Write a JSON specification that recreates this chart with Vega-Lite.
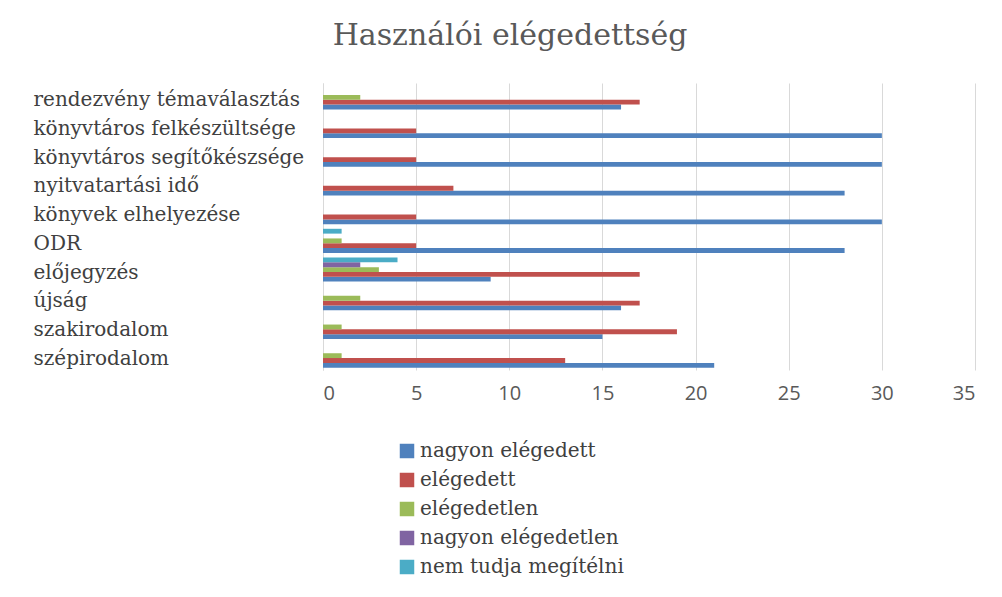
{
  "$schema": "https://vega.github.io/schema/vega-lite/v6.json",
  "autosize": {"type": "none"},
  "padding": {"left": 323, "top": 83, "right": 27, "bottom": 227},
  "width": 652,
  "height": 287,
  "background": "white",
  "title": {
    "text": "Használói elégedettség",
    "font": "DejaVu Serif",
    "fontSize": 30,
    "fontWeight": "normal",
    "color": "#595959",
    "anchor": "middle",
    "frame": "group",
    "dx": -139,
    "baseline": "alphabetic",
    "offset": 8
  },
  "data": {
    "values": [
      {"cat": "rendezvény témaválasztás", "series": "nagyon elégedett", "value": 16},
      {"cat": "rendezvény témaválasztás", "series": "elégedett", "value": 17},
      {"cat": "rendezvény témaválasztás", "series": "elégedetlen", "value": 2},
      {"cat": "könyvtáros felkészültsége", "series": "nagyon elégedett", "value": 30},
      {"cat": "könyvtáros felkészültsége", "series": "elégedett", "value": 5},
      {"cat": "könyvtáros segítőkészsége", "series": "nagyon elégedett", "value": 30},
      {"cat": "könyvtáros segítőkészsége", "series": "elégedett", "value": 5},
      {"cat": "nyitvatartási idő", "series": "nagyon elégedett", "value": 28},
      {"cat": "nyitvatartási idő", "series": "elégedett", "value": 7},
      {"cat": "könyvek elhelyezése", "series": "nagyon elégedett", "value": 30},
      {"cat": "könyvek elhelyezése", "series": "elégedett", "value": 5},
      {"cat": "ODR", "series": "nagyon elégedett", "value": 28},
      {"cat": "ODR", "series": "elégedett", "value": 5},
      {"cat": "ODR", "series": "elégedetlen", "value": 1},
      {"cat": "ODR", "series": "nem tudja megítélni", "value": 1},
      {"cat": "előjegyzés", "series": "nagyon elégedett", "value": 9},
      {"cat": "előjegyzés", "series": "elégedett", "value": 17},
      {"cat": "előjegyzés", "series": "elégedetlen", "value": 3},
      {"cat": "előjegyzés", "series": "nagyon elégedetlen", "value": 2},
      {"cat": "előjegyzés", "series": "nem tudja megítélni", "value": 4},
      {"cat": "újság", "series": "nagyon elégedett", "value": 16},
      {"cat": "újság", "series": "elégedett", "value": 17},
      {"cat": "újság", "series": "elégedetlen", "value": 2},
      {"cat": "szakirodalom", "series": "nagyon elégedett", "value": 15},
      {"cat": "szakirodalom", "series": "elégedett", "value": 19},
      {"cat": "szakirodalom", "series": "elégedetlen", "value": 1},
      {"cat": "szépirodalom", "series": "nagyon elégedett", "value": 21},
      {"cat": "szépirodalom", "series": "elégedett", "value": 13},
      {"cat": "szépirodalom", "series": "elégedetlen", "value": 1}
    ]
  },
  "mark": {"type": "bar"},
  "encoding": {
    "y": {
      "field": "cat",
      "type": "nominal",
      "sort": ["rendezvény témaválasztás", "könyvtáros felkészültsége", "könyvtáros segítőkészsége", "nyitvatartási idő", "könyvek elhelyezése", "ODR", "előjegyzés", "újság", "szakirodalom", "szépirodalom"],
      "scale": {"paddingInner": 0.16, "paddingOuter": 0.08},
      "axis": {
        "title": null,
        "ticks": false,
        "domain": true,
        "domainColor": "#d9d9d9",
        "domainWidth": 1,
        "labelAlign": "left",
        "labelPadding": 290,
        "labelOffset": 3,
        "labelLimit": 400,
        "labelFont": "DejaVu Serif",
        "labelFontSize": 20,
        "labelColor": "#404040"
      }
    },
    "yOffset": {
      "field": "series",
      "type": "nominal",
      "sort": ["nem tudja megítélni", "nagyon elégedetlen", "elégedetlen", "elégedett", "nagyon elégedett"],
      "scale": {"paddingInner": 0, "paddingOuter": 0}
    },
    "x": {
      "field": "value",
      "type": "quantitative",
      "scale": {"domain": [0, 35], "nice": false},
      "axis": {
        "title": null,
        "values": [0, 5, 10, 15, 20, 25, 30, 35],
        "domain": false,
        "ticks": false,
        "grid": true,
        "gridColor": "#d9d9d9",
        "gridWidth": 1,
        "labelFont": "Open Sans",
        "labelFontSize": 20,
        "labelColor": "#595959",
        "labelPadding": 13
      }
    },
    "color": {
      "field": "series",
      "type": "nominal",
      "scale": {
        "domain": ["nagyon elégedett", "elégedett", "elégedetlen", "nagyon elégedetlen", "nem tudja megítélni"],
        "range": ["#4F81BD", "#C0504D", "#9BBB59", "#8064A2", "#4BACC6"]
      },
      "legend": {
        "title": null,
        "orient": "none",
        "legendX": 74,
        "legendY": 358,
        "symbolType": "square",
        "symbolSize": 210,
        "symbolStrokeWidth": 0,
        "labelFont": "DejaVu Serif",
        "labelFontSize": 20,
        "labelLimit": 400,
        "labelColor": "#404040",
        "labelOffset": 3,
        "rowPadding": 9
      }
    }
  },
  "config": {"view": {"stroke": null}}
}
